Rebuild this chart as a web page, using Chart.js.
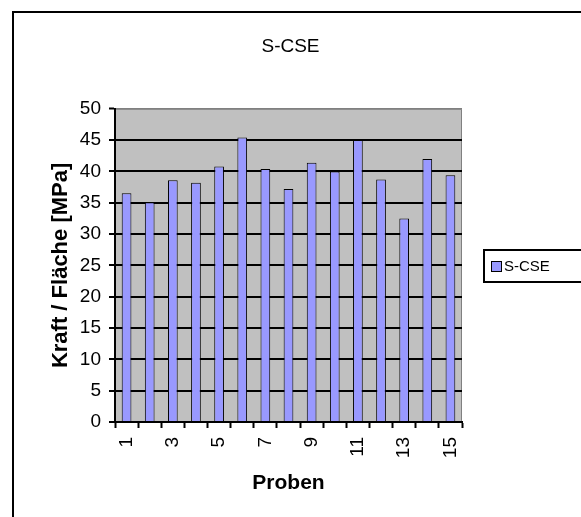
<!DOCTYPE html>
<html>
<head>
<meta charset="utf-8">
<title>S-CSE</title>
<script src="https://cdn.jsdelivr.net/npm/chart.js@4.4.1/dist/chart.umd.min.js"></script>
<style>
  html, body { margin: 0; padding: 0; background: #ffffff; overflow: hidden; }
  #wrap { position: relative; width: 581px; height: 517px; }
</style>
</head>
<body>
<div id="wrap"><canvas id="chart" width="581" height="517"></canvas></div>
<script>
// Specimen numbers and measured strength per specimen
const categories = ['1','2','3','4','5','6','7','8','9','10','11','12','13','14','15'];
const strengthValues = [36.5, 35.1, 38.6, 38.2, 40.8, 45.4, 40.4, 37.2, 41.4, 40.0, 45.0, 38.7, 32.5, 42.0, 39.4];
const xTickLabels = ['1','3','5','7','9','11','13','15'];
const yTickValues = [0, 5, 10, 15, 20, 25, 30, 35, 40, 45, 50];

const seriesName = 'S-CSE';
const chartTitle = 'S-CSE';
const yTitle = 'Kraft / Fläche [MPa]';
const xTitle = 'Proben';

const FONT = "'Liberation Sans', Arial, sans-serif";
const BAR_FILL = '#9999FF';

// Plot-area fill, outer frame and the boxed legend on the right
const decorations = {
  id: 'decorations',
  beforeDraw(chart) {
    const { ctx, chartArea: a } = chart;
    ctx.save();
    ctx.fillStyle = '#ffffff';
    ctx.fillRect(0, 0, chart.width, chart.height);
    ctx.fillStyle = '#C0C0C0';
    ctx.fillRect(a.left, a.top, a.right - a.left, a.bottom - a.top);
    ctx.strokeStyle = '#808080';
    ctx.lineWidth = 1;
    ctx.beginPath();
    ctx.moveTo(a.left, a.top + 0.5);
    ctx.lineTo(a.right - 0.5, a.top + 0.5);
    ctx.lineTo(a.right - 0.5, a.bottom);
    ctx.stroke();
    ctx.restore();
  },
  afterDraw(chart) {
    const { ctx } = chart;
    ctx.save();
    // outer chart frame (continues past the window edges)
    ctx.strokeStyle = '#000000';
    ctx.lineWidth = 2;
    ctx.strokeRect(13, 12, 700, 700);
    // legend box
    const ds = chart.data.datasets[0];
    const bx = 484, by = 250, bw = 120, bh = 32;
    ctx.lineWidth = 2;
    ctx.strokeRect(bx, by, bw, bh);
    ctx.fillStyle = ds.backgroundColor;
    ctx.fillRect(491, 261, 11, 11);
    ctx.lineWidth = 1;
    ctx.strokeStyle = '#000000';
    ctx.strokeRect(491.5, 261.5, 10, 10);
    ctx.fillStyle = '#000000';
    ctx.font = '15px ' + FONT;
    ctx.textBaseline = 'middle';
    ctx.textAlign = 'left';
    ctx.fillText(ds.label, 504, 267);
    ctx.restore();
  }
};

new Chart(document.getElementById('chart'), {
  type: 'bar',
  data: {
    labels: categories,
    datasets: [{
      label: seriesName,
      data: strengthValues,
      backgroundColor: BAR_FILL,
      borderColor: '#000000',
      borderWidth: 1,
      borderSkipped: 'start',
      barPercentage: 0.42,
      categoryPercentage: 1.0
    }]
  },
  options: {
    responsive: false,
    animation: false,
    layout: { padding: { left: 0, right: 0, top: 0, bottom: 0 } },
    plugins: {
      legend: { display: false },
      tooltip: { enabled: false },
      title: {
        display: true,
        text: chartTitle,
        color: '#000000',
        font: { family: FONT, size: 19, weight: 'normal', lineHeight: 1.2 },
        padding: { top: 35, bottom: 51 }
      }
    },
    scales: {
      x: {
        offset: true,
        grid: {
          offset: true,
          drawOnChartArea: false,
          drawTicks: true,
          tickLength: 6,
          tickColor: '#000000',
          tickWidth: 2,
          color: '#000000'
        },
        border: { display: true, color: '#000000', width: 2 },
        ticks: {
          autoSkip: false,
          maxRotation: 90,
          minRotation: 90,
          padding: 9,
          color: '#000000',
          font: { family: FONT, size: 19 },
          callback(value, index) {
            const lbl = categories[index];
            return xTickLabels.includes(lbl) ? lbl : '';
          }
        },
        title: {
          display: true,
          text: xTitle,
          color: '#000000',
          font: { family: FONT, size: 21, weight: 'bold', lineHeight: 1.2 },
          padding: { top: 0, bottom: 21 }
        },
        afterFit(scale) { scale.height = 95; }
      },
      y: {
        min: 0,
        max: 50,
        afterBuildTicks(scale) { scale.ticks = yTickValues.map(v => ({ value: v })); },
        grid: {
          color: ctx => (ctx.tick && ctx.tick.value === 50) ? '#808080' : '#000000',
          lineWidth: ctx => (ctx.tick && ctx.tick.value === 50) ? 1 : 2,
          drawTicks: true,
          tickLength: 6,
          tickColor: '#000000',
          tickWidth: 2
        },
        border: { display: true, color: '#000000', width: 2 },
        ticks: {
          padding: 8,
          color: '#000000',
          font: { family: FONT, size: 19 }
        },
        title: {
          display: true,
          text: yTitle,
          color: '#000000',
          font: { family: FONT, size: 22, weight: 'bold', lineHeight: 1.2 },
          padding: { top: 48, bottom: 0 }
        },
        afterFit(scale) { scale.width = 115; }
      },
      // empty right-hand axis that keeps room for the legend
      legendSpace: {
        type: 'linear',
        position: 'right',
        display: true,
        min: 0,
        max: 1,
        grid: { display: false },
        border: { display: false },
        ticks: { display: false },
        afterFit(scale) { scale.width = 119; }
      }
    }
  },
  plugins: [decorations]
});
</script>
</body>
</html>
